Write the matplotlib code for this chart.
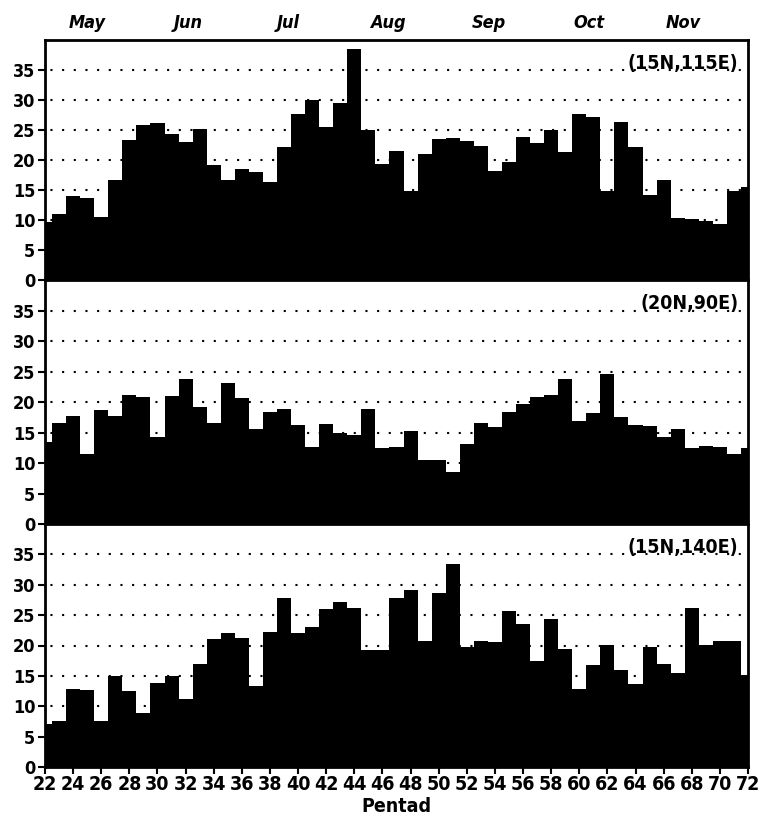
import matplotlib
matplotlib.use('Agg')
import matplotlib.pyplot as plt
import numpy as np

plt.rcParams['font.family'] = ['Liberation Sans Narrow', 'DejaVu Sans']
plt.rcParams['font.stretch'] = 'condensed'
plt.rcParams['font.weight'] = 'bold'

#-----------------------------------------------------------------------------
# data

pentads = np.arange(22, 73)

# (15N,115E)
vals_scs = [9.6, 11.0, 14.0, 13.7, 10.5, 16.6, 23.4, 25.8, 26.1, 24.4,
            23.0, 25.1, 19.1, 16.6, 18.5, 18.0, 16.4, 22.1, 27.6, 30.0,
            25.5, 29.5, 38.5, 25.0, 19.3, 21.5, 14.9, 21.0, 23.5, 23.6,
            23.2, 22.4, 18.2, 19.7, 23.9, 22.9, 25.0, 21.3, 27.6, 27.1,
            14.8, 26.4, 22.2, 14.1, 16.7, 10.4, 10.2, 9.9, 9.4, 14.8, 15.5]

# (20N,90E)
vals_bob = [13.5, 16.5, 17.7, 11.4, 18.7, 17.7, 21.1, 20.8, 14.3, 21.0,
            23.8, 19.2, 16.5, 23.1, 20.6, 15.5, 18.3, 18.8, 16.2, 12.7,
            16.4, 15.0, 14.6, 18.9, 12.4, 12.7, 15.3, 10.5, 10.5, 8.5,
            13.1, 16.5, 15.9, 18.4, 19.7, 20.8, 21.2, 23.8, 16.9, 18.2,
            24.6, 17.6, 16.3, 16.1, 14.2, 15.5, 12.4, 12.8, 12.7, 11.4, 12.5]

# (15N,140E)
vals_wnp = [7.1, 7.5, 12.8, 12.7, 7.5, 14.9, 12.5, 8.9, 13.9, 15.0,
            11.2, 16.9, 21.0, 22.0, 21.2, 13.4, 22.3, 27.9, 22.0, 23.1,
            26.0, 27.1, 26.2, 19.3, 19.3, 27.9, 29.1, 20.7, 28.7, 33.4,
            19.7, 20.7, 20.5, 25.7, 23.6, 17.4, 24.3, 19.4, 12.8, 16.8,
            20.1, 16.0, 13.7, 19.8, 16.9, 15.4, 26.1, 20.1, 20.8, 20.7, 15.2]

labels = ['(15N,115E)', '(20N,90E)', '(15N,140E)']

months = ['May', 'Jun', 'Jul', 'Aug', 'Sep', 'Oct', 'Nov']
month_pos = [25.0, 32.2, 39.3, 46.4, 53.6, 60.7, 67.4]

yticks = np.arange(0, 40, 5)
xticks = np.arange(22, 73, 2)

#-----------------------------------------------------------------------------

f = plt.figure(figsize=(7.61, 8.24), dpi=100)

left = 45 / 761.
width = (748 - 45) / 761.
edges = [40, 280, 524, 767]   # pixel rows of the panel borders

axes = []
for i, vals in enumerate([vals_scs, vals_bob, vals_wnp]):
    top = 1 - edges[i] / 824.
    bot = 1 - edges[i + 1] / 824.
    a = f.add_axes([left, bot, width, top - bot])
    a.bar(pentads, vals, width=1.0, color='black', edgecolor='none', zorder=2)
    a.set_xlim(22, 72)
    a.set_ylim(0, 40)
    a.set_yticks(yticks)
    a.set_yticklabels([str(t) for t in yticks], fontsize=13, fontweight='bold')
    # dotted grid lines
    for t in yticks[1:]:
        a.axhline(t, color='black', lw=1.5, linestyle=(3, (1, 4.6)), zorder=1)
    a.tick_params(axis='y', direction='out', length=5, width=1.5, pad=2)
    for s in a.spines.values():
        s.set_linewidth(2.0)
    a.text(71.3, 35.2, labels[i], ha='right', va='baseline',
           fontsize=14, fontweight='bold', zorder=3)
    axes.append(a)

# month names on top of first panel
for m, p in zip(months, month_pos):
    axes[0].text(p, 1.05, m, transform=axes[0].get_xaxis_transform(),
                 ha='center', va='baseline', fontsize=13, fontweight='bold',
                 style='italic')

for a in axes[:2]:
    a.set_xticks([])

axes[2].set_xticks(xticks)
axes[2].set_xticklabels([str(t) for t in xticks], fontsize=14, fontweight='bold')
axes[2].tick_params(axis='x', direction='out', length=5, width=1.5, pad=1)
axes[2].set_xlabel('Pentad', fontsize=14, fontweight='bold', labelpad=2)

f.savefig('out.png', dpi=100)
